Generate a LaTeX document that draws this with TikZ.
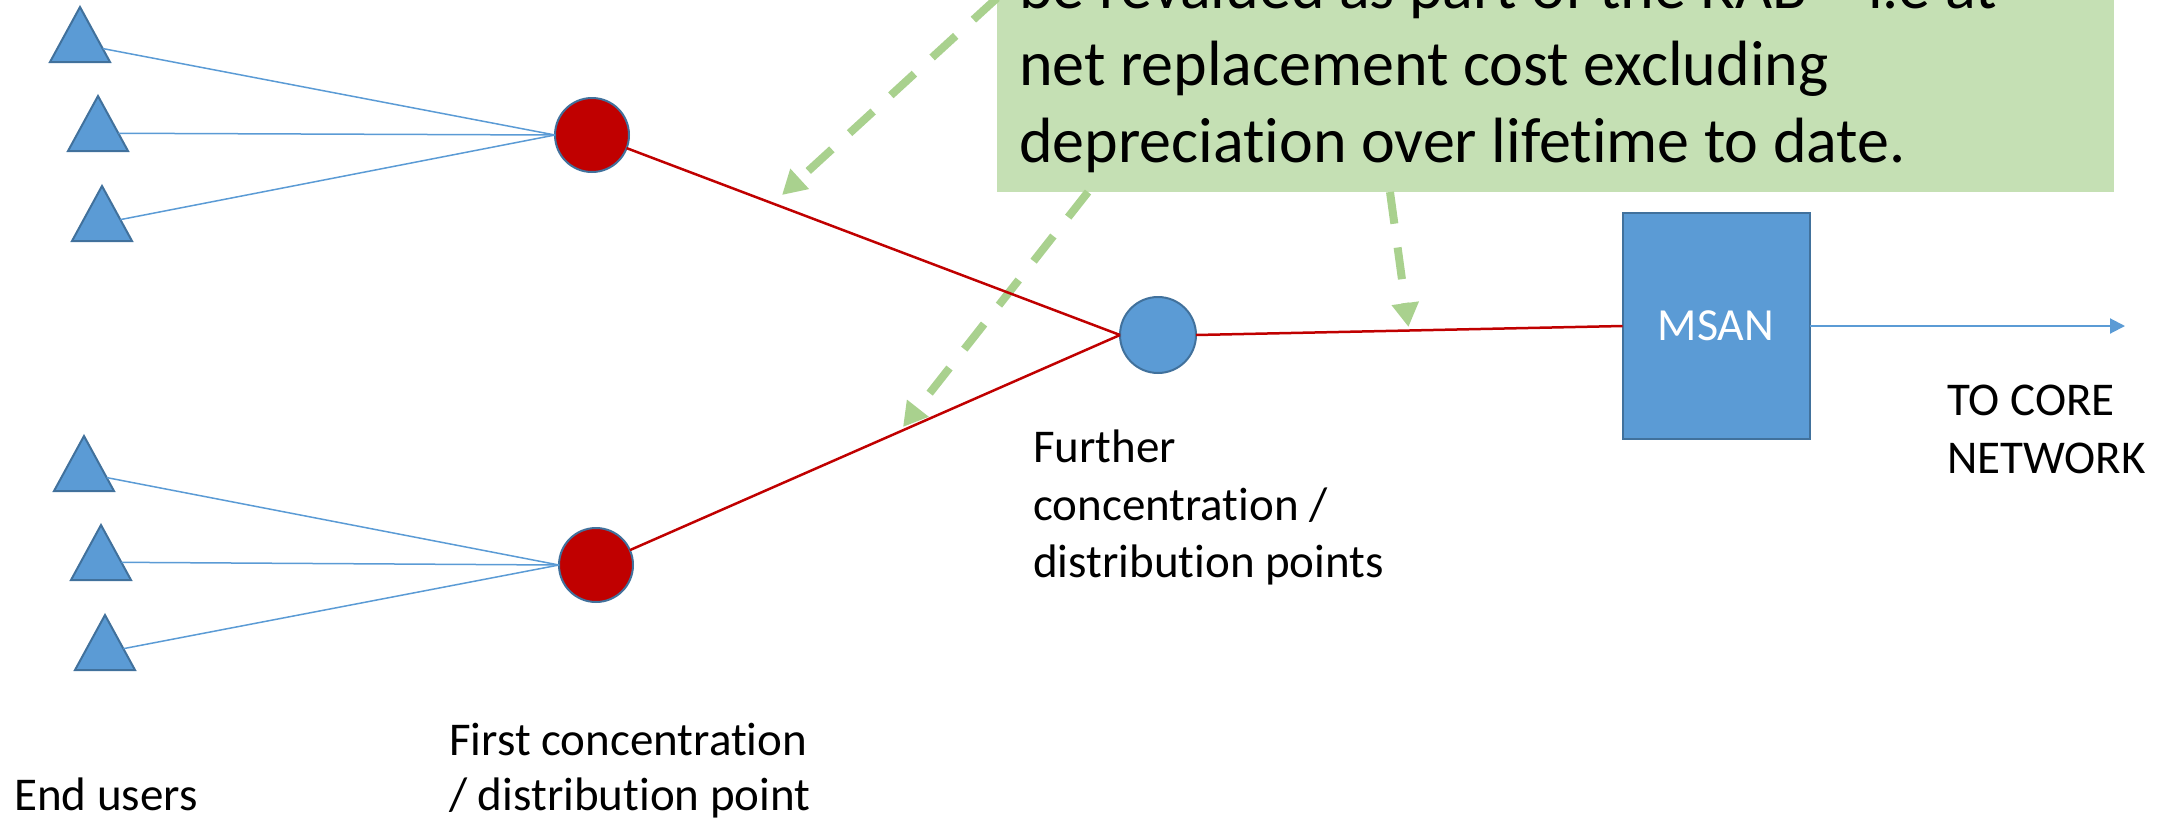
\documentclass[tikz,border=0pt]{standalone}
\usepackage{fontspec}
\setmainfont{Carlito}[Ligatures=CommonOff]
\usetikzlibrary{shapes.geometric,arrows.meta,calc}

\definecolor{nodeblue}{HTML}{5B9BD5}
\definecolor{nodeedge}{HTML}{41719C}
\definecolor{linkred}{HTML}{C00000}
\definecolor{notefill}{HTML}{C5E0B4}
\definecolor{notearrow}{HTML}{A9D18E}

\begin{document}
\begin{tikzpicture}[x=1pt,y=-1pt,
  user/.style={isosceles triangle, isosceles triangle stretches, rotate=90,
    anchor=apex, minimum width=60pt, minimum height=55pt, inner sep=0pt,
    outer sep=0pt, fill=nodeblue, draw=nodeedge, line width=2pt},
  firstpt/.style={circle, minimum size=74pt, inner sep=0pt, outer sep=0pt,
    fill=linkred, draw=nodeedge, line width=2pt},
  furtherpt/.style={circle, minimum size=76pt, inner sep=0pt, outer sep=0pt,
    fill=nodeblue, draw=nodeedge, line width=2pt},
  msanbox/.style={rectangle, minimum width=187pt, minimum height=226pt,
    inner sep=0pt, outer sep=0pt, fill=nodeblue, draw=nodeedge, line width=2pt,
    text=white, font=\fontsize{46}{55}\selectfont},
  notebox/.style={rectangle, minimum width=1117pt, minimum height=252pt,
    inner sep=0pt, outer sep=0pt, fill=notefill},
  notetext/.style={anchor=base west, inner sep=0pt, font=\fontsize{64}{77}\selectfont},
  lbl/.style={anchor=base west, inner sep=0pt, font=\fontsize{47}{57}\selectfont},
  access/.style={draw=nodeblue, line width=1.5pt},
  feeder/.style={draw=linkred, line width=2.5pt},
  noteptr/.style={draw=notearrow, line width=8pt, dash pattern=on 32pt off 24pt,
    -{Triangle[length=24pt,width=26pt]}},
  uplink/.style={draw=nodeblue, line width=2pt, -{Triangle[length=15pt,width=15pt]}}
]
\useasboundingbox (0,0) rectangle (2164,820);
\clip (0,0) rectangle (2164,820);

% note box
\node[notebox] (note) at (1555.5,66) {};
\node[notetext] (n1) at (1019,8) {be revalued as part of the RAB – i.e at};
\node[notetext] (n2) at (1019,85) {net replacement cost excluding};
\node[notetext] (n3) at (1019,162) {depreciation over lifetime to date.};

% end users
\node[user] (u1) at (80,7) {};
\node[user] (u2) at (98,96) {};
\node[user] (u3) at (102,186) {};
\node[user] (u4) at (84,436) {};
\node[user] (u5) at (101,525) {};
\node[user] (u6) at (105,615) {};

% concentration points and MSAN
\node[firstpt] (c1) at (592,135) {};
\node[firstpt] (c2) at (596,565) {};
\node[furtherpt] (f) at (1158,335) {};
\node[msanbox] (msan) at (1716,326) {MSAN};
\coordinate (core) at (2125,326);

% pointers from the note
\coordinate (s1) at (997,-2);
\coordinate (t1) at (782,195);
\coordinate (t2) at (903,427);
\coordinate (t3) at (1408.5,327);
\draw[noteptr] (s1) -- (t1);
\draw[noteptr] ([xshift=-467.5pt]note.south) -- (t2);
\draw[noteptr] ([xshift=-165.5pt]note.south) -- (t3);

% access links
\foreach \u in {u1,u2,u3} \draw[access] (\u) -- (c1.west);
\foreach \u in {u4,u5,u6} \draw[access] (\u) -- (c2.west);

% feeder links
\draw[feeder] (c1) -- (f.west);
\draw[feeder] (c2) -- (f.west);
\draw[feeder] (f.east) -- (msan.west);
\draw[uplink] (msan.east) -- (core);

% labels
\node[lbl] (eu) at (14,810) {End users};
\node[lbl] (fa) at (449,755) {First concentration};
\node[lbl] (fb) at (449,810) {/ distribution point};
\node[lbl] (ga) at (1033,462) {Further};
\node[lbl] (gb) at (1033,520) {concentration /};
\node[lbl] (gc) at (1033,577) {distribution points};
\node[lbl] (ka) at (1947,415) {TO CORE};
\node[lbl] (kb) at (1947,473) {NETWORK};
\end{tikzpicture}
\end{document}
